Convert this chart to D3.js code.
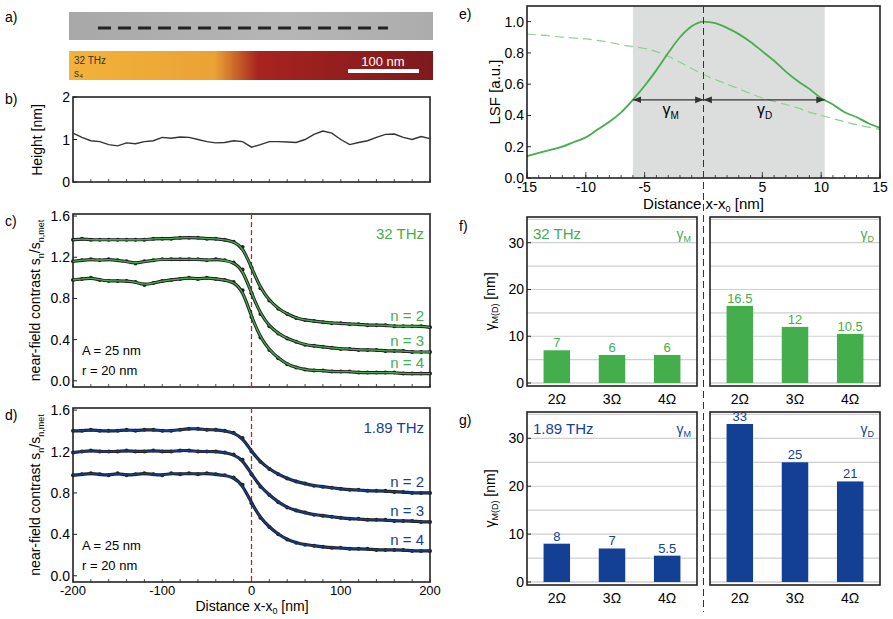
<!DOCTYPE html>
<html>
<head>
<meta charset="utf-8">
<script src="https://cdn.jsdelivr.net/npm/d3@7"></script>
<style>
body { margin: 0; background: #fff; }
text { font-family: "Liberation Sans", Arial, sans-serif; }
</style>
</head>
<body>
<svg id="fig" width="893" height="619"></svg>
<script>
// ---------------- data ----------------
var xDist = d3.range(-200, 201, 10);
var heightProfile = [1.15,1.05,0.97,0.95,0.88,0.85,0.92,0.9,0.95,0.97,1.05,1.03,1.06,1.05,1.0,0.95,0.92,0.93,0.97,0.95,0.82,0.88,0.95,0.95,0.94,0.93,1.0,1.12,1.2,1.15,1.0,0.88,0.93,0.97,1.05,1.12,1.13,1.05,1.0,1.07,1.02];

var c32n2 = [1.37,1.38,1.37,1.37,1.37,1.37,1.37,1.37,1.37,1.38,1.38,1.38,1.39,1.39,1.39,1.38,1.38,1.37,1.35,1.30,1.10,0.90,0.78,0.70,0.65,0.61,0.59,0.58,0.57,0.56,0.56,0.55,0.55,0.54,0.54,0.54,0.53,0.53,0.53,0.53,0.52];
var c32n3 = [1.16,1.17,1.18,1.17,1.18,1.17,1.16,1.14,1.16,1.17,1.18,1.18,1.18,1.18,1.18,1.17,1.18,1.17,1.15,1.08,0.85,0.65,0.53,0.46,0.41,0.38,0.35,0.34,0.33,0.32,0.31,0.31,0.30,0.30,0.30,0.29,0.29,0.29,0.28,0.28,0.28];
var c32n4 = [0.98,0.99,1.00,0.98,0.97,0.97,0.97,0.96,0.93,0.95,0.97,0.98,0.99,1.00,0.99,1.00,0.99,0.98,0.96,0.88,0.62,0.42,0.30,0.22,0.16,0.13,0.11,0.10,0.10,0.09,0.09,0.09,0.08,0.08,0.08,0.08,0.08,0.07,0.07,0.07,0.07];

var c189n2 = [1.40,1.40,1.41,1.40,1.40,1.40,1.41,1.40,1.41,1.41,1.40,1.40,1.41,1.42,1.42,1.41,1.41,1.40,1.38,1.33,1.20,1.10,1.03,0.98,0.94,0.91,0.89,0.87,0.86,0.85,0.84,0.83,0.83,0.82,0.82,0.82,0.81,0.81,0.80,0.80,0.80];
var c189n3 = [1.19,1.20,1.21,1.20,1.20,1.20,1.21,1.20,1.20,1.21,1.20,1.20,1.21,1.21,1.20,1.20,1.20,1.19,1.17,1.12,0.98,0.86,0.78,0.71,0.66,0.63,0.61,0.59,0.58,0.57,0.56,0.55,0.55,0.54,0.54,0.54,0.53,0.53,0.53,0.52,0.52];
var c189n4 = [0.97,0.98,0.99,0.98,0.97,0.99,0.97,0.98,0.99,0.98,0.97,0.99,0.98,0.99,0.98,0.99,0.98,0.97,0.95,0.88,0.70,0.56,0.47,0.40,0.35,0.32,0.30,0.29,0.28,0.27,0.27,0.26,0.26,0.26,0.25,0.25,0.25,0.25,0.24,0.24,0.24];

var lsfX = [-15,-14,-13,-12,-11,-10,-9,-8,-7,-6,-5,-4,-3,-2,-1,0,1,2,3,4,5,6,7,8,9,10,11,12,13,14,15];
var lsfSolid = [0.14,0.16,0.18,0.2,0.23,0.26,0.31,0.36,0.42,0.5,0.59,0.69,0.8,0.9,0.97,1.0,0.99,0.96,0.92,0.87,0.81,0.75,0.68,0.62,0.57,0.51,0.47,0.42,0.39,0.35,0.32];
var lsfDashed = [0.92,0.915,0.91,0.9,0.895,0.89,0.88,0.87,0.85,0.84,0.83,0.81,0.78,0.74,0.70,0.66,0.63,0.6,0.57,0.54,0.51,0.49,0.47,0.45,0.42,0.40,0.38,0.36,0.34,0.325,0.31];

var harmonics = ["2Ω", "3Ω", "4Ω"];
var gM32 = [7, 6, 6];
var gD32 = [16.5, 12, 10.5];
var gM189 = [8, 7, 5.5];
var gD189 = [33, 25, 21];

var green = "#44ad4c", blue = "#133f95";
var svg = d3.select("#fig");

function label(x, y, t, size) {
    svg.append("text").attr("x", x).attr("y", y).attr("font-size", size || 14).text(t);
}

// ---------------- panel a ----------------
var defs = svg.append("defs");
var g1 = defs.append("linearGradient").attr("id", "gray");
g1.append("stop").attr("offset", "0").attr("stop-color", "#a8a8a8");
g1.append("stop").attr("offset", "0.6").attr("stop-color", "#b6b6b6");
g1.append("stop").attr("offset", "1").attr("stop-color", "#acacac");
var g2 = defs.append("linearGradient").attr("id", "heat");
g2.append("stop").attr("offset", "0").attr("stop-color", "#f2b33a");
g2.append("stop").attr("offset", "0.4").attr("stop-color", "#eba234");
g2.append("stop").attr("offset", "0.52").attr("stop-color", "#a8231f");
g2.append("stop").attr("offset", "1").attr("stop-color", "#7d1a1d");
svg.append("rect").attr("x", 69).attr("y", 12).attr("width", 364).attr("height", 28).attr("fill", "url(#gray)");
svg.append("line").attr("x1", 98).attr("x2", 388).attr("y1", 28).attr("y2", 28)
    .attr("stroke", "#222").attr("stroke-width", 3).attr("stroke-dasharray", "13,7");
svg.append("rect").attr("x", 69).attr("y", 51).attr("width", 364).attr("height", 29).attr("fill", "url(#heat)");
svg.append("text").attr("x", 74).attr("y", 64).attr("font-size", 10).attr("fill", "#333").text("32 THz");
svg.append("text").attr("x", 74).attr("y", 77).attr("font-size", 10).attr("fill", "#333").text("s₄");
svg.append("rect").attr("x", 348).attr("y", 69).attr("width", 71).attr("height", 4).attr("fill", "#fff");
svg.append("text").attr("x", 383).attr("y", 66).attr("font-size", 13).attr("fill", "#fff").attr("text-anchor", "middle").text("100 nm");
label(5, 22, "a)");

// ---------------- helpers ----------------
function frame(x0, y0, w, h) {
    svg.append("rect").attr("x", x0).attr("y", y0).attr("width", w).attr("height", h)
        .attr("fill", "none").attr("stroke", "#222").attr("stroke-width", 1.6);
}
function minorTicks(scale, vals, y, len, dir) {
    vals.forEach(function (v) {
        svg.append("line").attr("x1", scale(v)).attr("x2", scale(v)).attr("y1", y).attr("y2", y + dir * len)
            .attr("stroke", "#222").attr("stroke-width", 0.8);
    });
}
function yTicks(scale, vals, x, fmt) {
    vals.forEach(function (v) {
        svg.append("line").attr("x1", x).attr("x2", x + 4).attr("y1", scale(v)).attr("y2", scale(v)).attr("stroke", "#222");
        svg.append("text").attr("x", x - 3).attr("y", scale(v) + 5).attr("text-anchor", "end").attr("font-size", 14).text(fmt(v));
    });
}

// ---------------- panel b ----------------
var xb = d3.scaleLinear().domain([-200, 200]).range([73, 430]);
var yb = d3.scaleLinear().domain([0, 2]).range([182, 97]);
frame(73, 97, 357, 85);
yTicks(yb, [0, 1, 2], 73, d3.format("d"));
minorTicks(xb, d3.range(-200, 201, 20), 182, 3, -1);
svg.append("path").datum(heightProfile).attr("fill", "none").attr("stroke", "#333").attr("stroke-width", 1.4)
    .attr("d", d3.line().x(function (d, i) { return xb(xDist[i]); }).y(function (d) { return yb(d); }));
svg.append("text").attr("transform", "translate(42,140) rotate(-90)").attr("text-anchor", "middle").attr("font-size", 14).text("Height [nm]");
label(5, 104, "b)");

// ---------------- panels c, d ----------------
function profilePanel(y0, h, series, col, freq, letter) {
    var xs = d3.scaleLinear().domain([-200, 200]).range([73, 430]);
    var ys = d3.scaleLinear().domain([-0.06, 1.62]).range([y0 + h, y0]);
    frame(73, y0, 357, h);
    yTicks(ys, [0, 0.4, 0.8, 1.2, 1.6], 73, d3.format(".1f"));
    minorTicks(xs, d3.range(-200, 201, 20), y0 + h, 3, -1);
    svg.append("line").attr("x1", xs(0)).attr("x2", xs(0)).attr("y1", y0).attr("y2", y0 + h)
        .attr("stroke", "#a8312e").attr("stroke-width", 1.3).attr("stroke-dasharray", "5,3");
    var ln = d3.line().x(function (d, i) { return xs(xDist[i]); }).y(function (d) { return ys(d); }).curve(d3.curveBasis);
    series.forEach(function (s) {
        svg.append("g").selectAll("circle").data(s).join("circle")
            .attr("cx", function (d, i) { return xs(xDist[i]); }).attr("cy", function (d) { return ys(d); })
            .attr("r", 2).attr("fill", "#222");
        svg.append("path").datum(s).attr("fill", "none").attr("stroke", "#222").attr("stroke-width", 3.2).attr("d", ln);
        svg.append("path").datum(s).attr("fill", "none").attr("stroke", col).attr("stroke-width", 1.3).attr("d", ln);
    });
    svg.append("text").attr("x", 424).attr("y", y0 + 25).attr("text-anchor", "end").attr("font-size", 15).attr("fill", col).text(freq);
    ["n = 2", "n = 3", "n = 4"].forEach(function (t, i) {
        var v = series[i][series[i].length - 1];
        svg.append("text").attr("x", 424).attr("y", ys(v) - 6).attr("text-anchor", "end").attr("font-size", 15).attr("fill", col).text(t);
    });
    svg.append("text").attr("x", 82).attr("y", y0 + h - 32).attr("font-size", 13).text("A = 25 nm");
    svg.append("text").attr("x", 82).attr("y", y0 + h - 12).attr("font-size", 13).text("r = 20 nm");
    var yl = svg.append("text").attr("transform", "translate(40," + (y0 + h / 2) + ") rotate(-90)").attr("text-anchor", "middle").attr("font-size", 14);
    yl.append("tspan").text("near-field contrast s");
    yl.append("tspan").attr("font-size", 9).attr("dy", 4).text("n");
    yl.append("tspan").attr("dy", -4).text("/s");
    yl.append("tspan").attr("font-size", 9).attr("dy", 4).text("n,met");
    label(5, y0 + 12, letter);
    return xs;
}
profilePanel(214, 173, [c32n2, c32n3, c32n4], green, "32 THz", "c)");
var xd = profilePanel(408, 174, [c189n2, c189n3, c189n4], blue, "1.89 THz", "d)");
[-200, -100, 0, 100, 200].forEach(function (v) {
    svg.append("text").attr("x", xd(v)).attr("y", 595).attr("text-anchor", "middle").attr("font-size", 13).text(v);
});
var xl = svg.append("text").attr("x", 252).attr("y", 611).attr("text-anchor", "middle").attr("font-size", 14);
xl.append("tspan").text("Distance x-x");
xl.append("tspan").attr("font-size", 9).attr("dy", 3).text("0");
xl.append("tspan").attr("dy", -3).text("  [nm]");

// ---------------- panel e ----------------
var xe = d3.scaleLinear().domain([-15, 15]).range([527, 880]);
var ye = d3.scaleLinear().domain([0, 1.1]).range([178, 6]);
svg.append("rect").attr("x", xe(-6)).attr("y", 6).attr("width", xe(10.3) - xe(-6)).attr("height", 172).attr("fill", "#dcdedd");
svg.append("path").datum(lsfDashed).attr("fill", "none").attr("stroke", "#8fce8f").attr("stroke-width", 1.2).attr("stroke-dasharray", "9,5")
    .attr("d", d3.line().x(function (d, i) { return xe(lsfX[i]); }).y(function (d) { return ye(d); }).curve(d3.curveBasis));
svg.append("path").datum(lsfSolid).attr("fill", "none").attr("stroke", green).attr("stroke-width", 1.8)
    .attr("d", d3.line().x(function (d, i) { return xe(lsfX[i]); }).y(function (d) { return ye(d); }).curve(d3.curveMonotoneX));
frame(527, 6, 353, 172);
yTicks(ye, [0, 0.2, 0.4, 0.6, 0.8, 1.0], 527, d3.format(".1f"));
minorTicks(xe, d3.range(-15, 16, 1), 178, 3, -1);
minorTicks(xe, d3.range(-15, 16, 5), 178, 6, -1);
[-15, -10, -5, 5, 10, 15].forEach(function (v) {
    svg.append("text").attr("x", xe(v)).attr("y", 192).attr("text-anchor", "middle").attr("font-size", 14).text(v);
});
defs.append("marker").attr("id", "arr").attr("viewBox", "0 0 10 10").attr("refX", 10).attr("refY", 5)
    .attr("markerWidth", 7).attr("markerHeight", 7).attr("orient", "auto-start-reverse")
    .append("path").attr("d", "M0,1L10,5L0,9z").attr("fill", "#333");
[[-6, 0], [0, 10.3]].forEach(function (p) {
    svg.append("line").attr("x1", xe(p[0])).attr("x2", xe(p[1])).attr("y1", ye(0.5)).attr("y2", ye(0.5))
        .attr("stroke", "#333").attr("stroke-width", 1.2).attr("marker-start", "url(#arr)").attr("marker-end", "url(#arr)");
});
[["γ", "M", -2.8], ["γ", "D", 5.2]].forEach(function (g) {
    var t = svg.append("text").attr("x", xe(g[2])).attr("y", ye(0.4)).attr("text-anchor", "middle").attr("font-size", 16);
    t.append("tspan").text(g[0]);
    t.append("tspan").attr("font-size", 10).attr("dy", 4).text(g[1]);
});
svg.append("text").attr("transform", "translate(500,92) rotate(-90)").attr("text-anchor", "middle").attr("font-size", 15).text("LSF  [a.u.]");
var xle = svg.append("text").attr("x", xe(0)).attr("y", 209).attr("text-anchor", "middle").attr("font-size", 15);
xle.append("tspan").text("Distance x-x");
xle.append("tspan").attr("font-size", 9).attr("dy", 3).text("0");
xle.append("tspan").attr("dy", -3).text("  [nm]");
label(459, 19, "e)");

// ---------------- panels f, g ----------------
function barBox(x0, x1, y0, y1, vals, col, tag, freq, withAxis) {
    var ys = d3.scaleLinear().domain([0, 35.5]).range([y1 - 3, y0]);
    var xs = d3.scaleBand().domain(harmonics).range([x0, x1]).paddingInner(0.52).paddingOuter(0.3);
    d3.range(5, 36, 5).forEach(function (v) {
        svg.append("line").attr("x1", x0).attr("x2", x1).attr("y1", ys(v)).attr("y2", ys(v)).attr("stroke", "#cfcfcf").attr("stroke-width", 1.2);
    });
    svg.append("line").attr("x1", x0).attr("x2", x1).attr("y1", ys(0)).attr("y2", ys(0)).attr("stroke", "#bbb");
    svg.append("g").selectAll("rect").data(vals).join("rect")
        .attr("x", function (d, i) { return xs(harmonics[i]); }).attr("width", xs.bandwidth())
        .attr("y", function (d) { return ys(d); }).attr("height", function (d) { return ys(0) - ys(d); })
        .attr("fill", col);
    svg.append("g").selectAll("text").data(vals).join("text")
        .attr("x", function (d, i) { return xs(harmonics[i]) + xs.bandwidth() / 2; }).attr("y", function (d) { return ys(d) - 3; })
        .attr("text-anchor", "middle").attr("font-size", 13).attr("fill", col).text(function (d) { return d; });
    harmonics.forEach(function (h) {
        svg.append("text").attr("x", xs(h) + xs.bandwidth() / 2).attr("y", y1 + 18).attr("text-anchor", "middle").attr("font-size", 14).text(h);
    });
    frame(x0, y0, x1 - x0, y1 - y0);
    var t = svg.append("text").attr("x", x1 - 6).attr("y", y0 + 22).attr("text-anchor", "end").attr("font-size", 14).attr("fill", col);
    t.append("tspan").text("γ");
    t.append("tspan").attr("font-size", 9).attr("dy", 3).text(tag);
    if (withAxis) {
        yTicks(ys, [0, 10, 20, 30], x0, d3.format("d"));
        svg.append("text").attr("x", x0 + 6).attr("y", y0 + 22).attr("font-size", 15).attr("fill", col).text(freq);
        var yl = svg.append("text").attr("transform", "translate(495," + ((y0 + y1) / 2) + ") rotate(-90)").attr("text-anchor", "middle").attr("font-size", 14);
        yl.append("tspan").text("γ");
        yl.append("tspan").attr("font-size", 9).attr("dy", 3).text("M(D)");
        yl.append("tspan").attr("dy", -3).text("  [nm]");
    }
}
barBox(527, 697, 217, 386, gM32, green, "M", "32 THz", true);
barBox(710, 880, 217, 386, gD32, green, "D", "", false);
barBox(527, 697, 412, 585, gM189, blue, "M", "1.89 THz", true);
barBox(710, 880, 412, 585, gD189, blue, "D", "", false);
label(459, 231, "f)");
label(459, 425, "g)");
svg.append("line").attr("x1", xe(0)).attr("x2", xe(0)).attr("y1", 6).attr("y2", 612)
    .attr("stroke", "#333").attr("stroke-width", 1).attr("stroke-dasharray", "7,4");
</script>
</body>
</html>
